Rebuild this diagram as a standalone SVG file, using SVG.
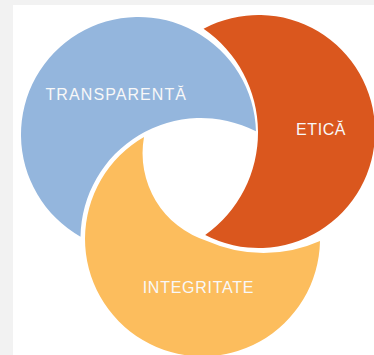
<svg xmlns="http://www.w3.org/2000/svg" width="374" height="355" viewBox="0 0 374 355">
  <style>
    .lbl { font-family: "Liberation Sans", Arial, sans-serif; font-size: 16px; fill: #f8f8f8; }
    .blue { fill: #94B6DD; }
    .orange { fill: #DA571E; }
    .yellow { fill: #FCBD5D; }
  </style>
  <rect x="0" y="0" width="374" height="355" fill="#ffffff"/>
  <rect x="0" y="0" width="374" height="5" fill="#f2f2f2"/>
  <rect x="0" y="0" width="13" height="355" fill="#f2f2f2"/>

  <g id="transparenta">
    <path class="blue" d="M 255.95 131.25 A 117.5 117.5 0 1 0 80.51 236.69 A 120.5 120.5 0 0 1 255.95 131.25 Z"/>
    <text class="lbl" x="45.5" y="100" textLength="140.5">TRANSPARENTĂ</text>
  </g>

  <g id="etica">
    <path class="orange" d="M 203.55 28.78 A 116.5 116.5 0 1 1 205.17 235.08 A 126 126 0 0 0 203.55 28.78 Z"/>
    <text class="lbl" x="296" y="135" textLength="49.5">ETICĂ</text>
  </g>

  <g id="integritate">
    <path class="yellow" d="M 144 137 A 117.5 117.5 0 1 0 320 241 A 139 139 0 0 1 207 241 A 92 92 0 0 1 144 137 Z"/>
    <text class="lbl" x="142.7" y="292.7" textLength="110.6">INTEGRITATE</text>
  </g>

  <g id="connectors"/>
</svg>
